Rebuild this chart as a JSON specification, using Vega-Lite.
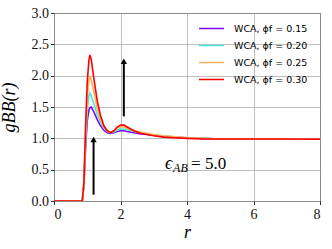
{
  "$schema": "https://vega.github.io/schema/vega-lite/v6.json",
  "width": 266,
  "height": 188,
  "autosize": "none",
  "padding": {"left": 54, "top": 13, "right": 12, "bottom": 48},
  "background": "white",
  "config": {
    "view": {"stroke": "black", "strokeWidth": 1},
    "axis": {
      "domain": false,
      "grid": true,
      "gridColor": "#b0b0b0",
      "gridWidth": 0.8,
      "tickColor": "black",
      "tickSize": 3.5,
      "tickWidth": 0.8,
      "labelOverlap": false,
      "labelFont": "Liberation Serif",
      "labelFontSize": 14,
      "labelColor": "#111111",
      "titleFont": "Liberation Serif",
      "titleFontStyle": "italic",
      "titleFontWeight": "normal",
      "titleFontSize": 18,
      "titleColor": "black"
    },
    "legend": {
      "orient": "none",
      "legendX": 144,
      "legendY": 7,
      "padding": 0,
      "title": null,
      "symbolType": "stroke",
      "symbolSize": 625,
      "symbolStrokeWidth": 1.5,
      "clipHeight": 17,
      "rowPadding": 0,
      "labelOffset": 9,
      "labelFont": "DejaVu Sans",
      "labelFontSize": 9.5,
      "labelColor": "black"
    }
  },
  "datasets": {
    "curves": [
      {"r":0,"g":0,"phi":"WCA, ϕf = 0.15"},{"r":0.85,"g":0,"phi":"WCA, ϕf = 0.15"},{"r":0.9,"g":0.25,"phi":"WCA, ϕf = 0.15"},{"r":0.95,"g":0.85,"phi":"WCA, ϕf = 0.15"},{"r":1.0,"g":1.28,"phi":"WCA, ϕf = 0.15"},{"r":1.05,"g":1.45,"phi":"WCA, ϕf = 0.15"},{"r":1.08,"g":1.49,"phi":"WCA, ϕf = 0.15"},{"r":1.12,"g":1.5,"phi":"WCA, ϕf = 0.15"},{"r":1.2,"g":1.42,"phi":"WCA, ϕf = 0.15"},{"r":1.3,"g":1.3,"phi":"WCA, ϕf = 0.15"},{"r":1.4,"g":1.2,"phi":"WCA, ϕf = 0.15"},{"r":1.5,"g":1.13,"phi":"WCA, ϕf = 0.15"},{"r":1.6,"g":1.09,"phi":"WCA, ϕf = 0.15"},{"r":1.7,"g":1.08,"phi":"WCA, ϕf = 0.15"},{"r":1.8,"g":1.09,"phi":"WCA, ϕf = 0.15"},{"r":1.9,"g":1.11,"phi":"WCA, ϕf = 0.15"},{"r":2.0,"g":1.12,"phi":"WCA, ϕf = 0.15"},{"r":2.1,"g":1.12,"phi":"WCA, ϕf = 0.15"},{"r":2.2,"g":1.11,"phi":"WCA, ϕf = 0.15"},{"r":2.4,"g":1.09,"phi":"WCA, ϕf = 0.15"},{"r":2.6,"g":1.07,"phi":"WCA, ϕf = 0.15"},{"r":2.8,"g":1.06,"phi":"WCA, ϕf = 0.15"},{"r":3.0,"g":1.05,"phi":"WCA, ϕf = 0.15"},{"r":3.3,"g":1.03,"phi":"WCA, ϕf = 0.15"},{"r":3.6,"g":1.02,"phi":"WCA, ϕf = 0.15"},{"r":4.0,"g":1.01,"phi":"WCA, ϕf = 0.15"},{"r":4.5,"g":1.0,"phi":"WCA, ϕf = 0.15"},{"r":5.0,"g":0.99,"phi":"WCA, ϕf = 0.15"},{"r":6.0,"g":0.99,"phi":"WCA, ϕf = 0.15"},{"r":7.0,"g":0.99,"phi":"WCA, ϕf = 0.15"},{"r":8.0,"g":0.985,"phi":"WCA, ϕf = 0.15"},
      {"r":0,"g":0,"phi":"WCA, ϕf = 0.20"},{"r":0.85,"g":0,"phi":"WCA, ϕf = 0.20"},{"r":0.9,"g":0.26,"phi":"WCA, ϕf = 0.20"},{"r":0.95,"g":0.95,"phi":"WCA, ϕf = 0.20"},{"r":1.0,"g":1.45,"phi":"WCA, ϕf = 0.20"},{"r":1.05,"g":1.68,"phi":"WCA, ϕf = 0.20"},{"r":1.08,"g":1.72,"phi":"WCA, ϕf = 0.20"},{"r":1.12,"g":1.68,"phi":"WCA, ϕf = 0.20"},{"r":1.2,"g":1.55,"phi":"WCA, ϕf = 0.20"},{"r":1.3,"g":1.38,"phi":"WCA, ϕf = 0.20"},{"r":1.4,"g":1.25,"phi":"WCA, ϕf = 0.20"},{"r":1.5,"g":1.16,"phi":"WCA, ϕf = 0.20"},{"r":1.6,"g":1.11,"phi":"WCA, ϕf = 0.20"},{"r":1.7,"g":1.09,"phi":"WCA, ϕf = 0.20"},{"r":1.8,"g":1.1,"phi":"WCA, ϕf = 0.20"},{"r":1.9,"g":1.13,"phi":"WCA, ϕf = 0.20"},{"r":2.0,"g":1.15,"phi":"WCA, ϕf = 0.20"},{"r":2.1,"g":1.15,"phi":"WCA, ϕf = 0.20"},{"r":2.2,"g":1.14,"phi":"WCA, ϕf = 0.20"},{"r":2.4,"g":1.11,"phi":"WCA, ϕf = 0.20"},{"r":2.6,"g":1.09,"phi":"WCA, ϕf = 0.20"},{"r":2.8,"g":1.07,"phi":"WCA, ϕf = 0.20"},{"r":3.0,"g":1.05,"phi":"WCA, ϕf = 0.20"},{"r":3.3,"g":1.04,"phi":"WCA, ϕf = 0.20"},{"r":3.6,"g":1.02,"phi":"WCA, ϕf = 0.20"},{"r":4.0,"g":1.01,"phi":"WCA, ϕf = 0.20"},{"r":4.5,"g":1.0,"phi":"WCA, ϕf = 0.20"},{"r":5.0,"g":0.99,"phi":"WCA, ϕf = 0.20"},{"r":6.0,"g":0.99,"phi":"WCA, ϕf = 0.20"},{"r":7.0,"g":0.99,"phi":"WCA, ϕf = 0.20"},{"r":8.0,"g":0.985,"phi":"WCA, ϕf = 0.20"},
      {"r":0,"g":0,"phi":"WCA, ϕf = 0.25"},{"r":0.85,"g":0,"phi":"WCA, ϕf = 0.25"},{"r":0.9,"g":0.28,"phi":"WCA, ϕf = 0.25"},{"r":0.95,"g":1.05,"phi":"WCA, ϕf = 0.25"},{"r":1.0,"g":1.65,"phi":"WCA, ϕf = 0.25"},{"r":1.05,"g":1.93,"phi":"WCA, ϕf = 0.25"},{"r":1.08,"g":1.98,"phi":"WCA, ϕf = 0.25"},{"r":1.12,"g":1.93,"phi":"WCA, ϕf = 0.25"},{"r":1.2,"g":1.74,"phi":"WCA, ϕf = 0.25"},{"r":1.3,"g":1.48,"phi":"WCA, ϕf = 0.25"},{"r":1.4,"g":1.3,"phi":"WCA, ϕf = 0.25"},{"r":1.5,"g":1.18,"phi":"WCA, ϕf = 0.25"},{"r":1.6,"g":1.12,"phi":"WCA, ϕf = 0.25"},{"r":1.7,"g":1.1,"phi":"WCA, ϕf = 0.25"},{"r":1.8,"g":1.12,"phi":"WCA, ϕf = 0.25"},{"r":1.9,"g":1.16,"phi":"WCA, ϕf = 0.25"},{"r":2.0,"g":1.18,"phi":"WCA, ϕf = 0.25"},{"r":2.1,"g":1.18,"phi":"WCA, ϕf = 0.25"},{"r":2.2,"g":1.16,"phi":"WCA, ϕf = 0.25"},{"r":2.4,"g":1.13,"phi":"WCA, ϕf = 0.25"},{"r":2.6,"g":1.1,"phi":"WCA, ϕf = 0.25"},{"r":2.8,"g":1.08,"phi":"WCA, ϕf = 0.25"},{"r":3.0,"g":1.06,"phi":"WCA, ϕf = 0.25"},{"r":3.3,"g":1.04,"phi":"WCA, ϕf = 0.25"},{"r":3.6,"g":1.03,"phi":"WCA, ϕf = 0.25"},{"r":4.0,"g":1.01,"phi":"WCA, ϕf = 0.25"},{"r":4.5,"g":1.0,"phi":"WCA, ϕf = 0.25"},{"r":5.0,"g":0.99,"phi":"WCA, ϕf = 0.25"},{"r":6.0,"g":0.99,"phi":"WCA, ϕf = 0.25"},{"r":7.0,"g":0.99,"phi":"WCA, ϕf = 0.25"},{"r":8.0,"g":0.985,"phi":"WCA, ϕf = 0.25"},
      {"r":0,"g":0,"phi":"WCA, ϕf = 0.30"},{"r":0.85,"g":0,"phi":"WCA, ϕf = 0.30"},{"r":0.9,"g":0.3,"phi":"WCA, ϕf = 0.30"},{"r":0.95,"g":1.2,"phi":"WCA, ϕf = 0.30"},{"r":1.0,"g":1.9,"phi":"WCA, ϕf = 0.30"},{"r":1.05,"g":2.25,"phi":"WCA, ϕf = 0.30"},{"r":1.08,"g":2.33,"phi":"WCA, ϕf = 0.30"},{"r":1.12,"g":2.26,"phi":"WCA, ϕf = 0.30"},{"r":1.2,"g":1.95,"phi":"WCA, ϕf = 0.30"},{"r":1.3,"g":1.6,"phi":"WCA, ϕf = 0.30"},{"r":1.4,"g":1.36,"phi":"WCA, ϕf = 0.30"},{"r":1.5,"g":1.2,"phi":"WCA, ϕf = 0.30"},{"r":1.6,"g":1.12,"phi":"WCA, ϕf = 0.30"},{"r":1.7,"g":1.09,"phi":"WCA, ϕf = 0.30"},{"r":1.8,"g":1.12,"phi":"WCA, ϕf = 0.30"},{"r":1.9,"g":1.18,"phi":"WCA, ϕf = 0.30"},{"r":2.0,"g":1.21,"phi":"WCA, ϕf = 0.30"},{"r":2.1,"g":1.21,"phi":"WCA, ϕf = 0.30"},{"r":2.2,"g":1.18,"phi":"WCA, ϕf = 0.30"},{"r":2.4,"g":1.12,"phi":"WCA, ϕf = 0.30"},{"r":2.6,"g":1.08,"phi":"WCA, ϕf = 0.30"},{"r":2.8,"g":1.06,"phi":"WCA, ϕf = 0.30"},{"r":3.0,"g":1.04,"phi":"WCA, ϕf = 0.30"},{"r":3.3,"g":1.02,"phi":"WCA, ϕf = 0.30"},{"r":3.6,"g":1.01,"phi":"WCA, ϕf = 0.30"},{"r":4.0,"g":1.0,"phi":"WCA, ϕf = 0.30"},{"r":4.5,"g":0.99,"phi":"WCA, ϕf = 0.30"},{"r":5.0,"g":0.99,"phi":"WCA, ϕf = 0.30"},{"r":6.0,"g":0.99,"phi":"WCA, ϕf = 0.30"},{"r":7.0,"g":0.99,"phi":"WCA, ϕf = 0.30"},{"r":8.0,"g":0.985,"phi":"WCA, ϕf = 0.30"}
    ],
    "arrows": [
      {"r": 1.19, "g": 0.1, "g2": 0.97},
      {"r": 2.1, "g": 1.35, "g2": 2.2}
    ],
    "heads": [
      {"r": 1.19, "g": 0.98},
      {"r": 2.1, "g": 2.23}
    ],
    "label": [
      {"r": 3.34, "g": 0.59}
    ]
  },
  "encoding": {
    "x": {"field": "r", "type": "quantitative", "scale": {"domain": [0, 8], "nice": false},
          "axis": {"values": [0, 2, 4, 6, 8], "title": "r", "labelPadding": 3, "titlePadding": 2}},
    "y": {"field": "g", "type": "quantitative", "scale": {"domain": [0, 3], "nice": false},
          "axis": {"values": [0, 0.5, 1, 1.5, 2, 2.5, 3], "format": ".1f", "title": "gBB(r)", "labelPadding": 2, "titlePadding": 13}}
  },
  "layer": [
    {
      "data": {"name": "curves"},
      "mark": {"type": "line", "strokeWidth": 1.6, "clip": true},
      "encoding": {
        "color": {"field": "phi", "type": "nominal",
                  "scale": {"domain": ["WCA, ϕf = 0.15", "WCA, ϕf = 0.20", "WCA, ϕf = 0.25", "WCA, ϕf = 0.30"],
                            "range": ["#8000ff", "#48e6d4", "#ffb360", "#ff0000"]}}
      }
    },
    {
      "data": {"name": "arrows"},
      "mark": {"type": "rule", "color": "black", "strokeWidth": 2},
      "encoding": {
        "y2": {"field": "g2"}
      }
    },
    {
      "data": {"name": "heads"},
      "mark": {"type": "point", "shape": "triangle-up", "filled": true, "color": "black", "opacity": 1, "size": 40},
      "encoding": {}
    },
    {
      "data": {"name": "label"},
      "mark": {"type": "text", "text": "ϵ", "align": "left", "baseline": "middle", "font": "Liberation Serif", "fontStyle": "italic", "fontSize": 18},
      "encoding": {}
    },
    {
      "data": {"name": "label"},
      "mark": {"type": "text", "text": "AB", "align": "left", "baseline": "middle", "font": "Liberation Serif", "fontStyle": "italic", "fontSize": 12, "dx": 8, "dy": 4},
      "encoding": {}
    },
    {
      "data": {"name": "label"},
      "mark": {"type": "text", "text": "= 5.0", "align": "left", "baseline": "middle", "font": "Liberation Serif", "fontSize": 17, "dx": 26},
      "encoding": {}
    }
  ]
}
